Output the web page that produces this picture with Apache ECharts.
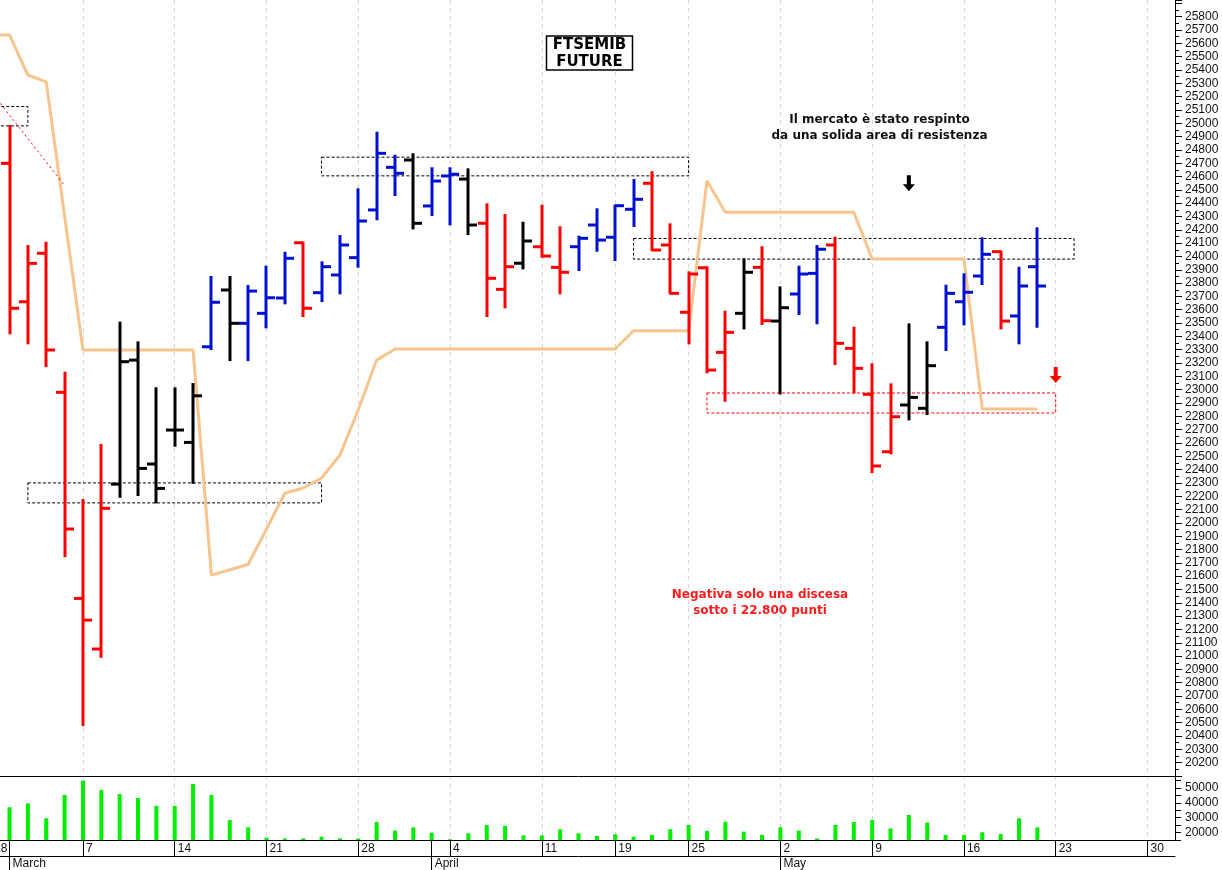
<!DOCTYPE html>
<html><head><meta charset="utf-8">
<script src="https://cdn.jsdelivr.net/npm/echarts@6/dist/echarts.min.js"></script>
<style>html,body{margin:0;padding:0;background:#fff;overflow:hidden;width:1222px;height:870px;position:relative}#c{position:absolute;left:-18px;top:0;width:1240px;height:870px}</style>
</head><body><div id="c"></div>
<script>
// ---------- DATA ----------
const dates = [
 '2022-02-28',
 '2022-03-01','2022-03-02','2022-03-03','2022-03-04',
 '2022-03-07','2022-03-08','2022-03-09','2022-03-10','2022-03-11',
 '2022-03-14','2022-03-15','2022-03-16','2022-03-17','2022-03-18',
 '2022-03-21','2022-03-22','2022-03-23','2022-03-24','2022-03-25',
 '2022-03-28','2022-03-29','2022-03-30','2022-03-31','2022-04-01',
 '2022-04-04','2022-04-05','2022-04-06','2022-04-07','2022-04-08',
 '2022-04-11','2022-04-12','2022-04-13','2022-04-14',
 '2022-04-19','2022-04-20','2022-04-21','2022-04-22',
 '2022-04-25','2022-04-26','2022-04-27','2022-04-28','2022-04-29',
 '2022-05-02','2022-05-03','2022-05-04','2022-05-05','2022-05-06',
 '2022-05-09','2022-05-10','2022-05-11','2022-05-12','2022-05-13',
 '2022-05-16','2022-05-17','2022-05-18','2022-05-19','2022-05-20',
 '2022-05-23','2022-05-24','2022-05-25','2022-05-26','2022-05-27',
 '2022-05-30','2022-05-31'
];
const monthNames = ['January','February','March','April','May','June','July','August','September','October','November','December'];

// OHLC bars: first bar is 2022-03-01
const barStartDate = '2022-03-01';
const opens  = [24699,23660,24024,22980,21433,21053,22291,23222,22442,22697,22604,23322,23748,23498,23573,23688,24103,23728,23861,23991,24349,24669,24724,24379,24604,24581,24249,23753,23949,24073,23918,24073,24236,24144,24354,24549,24086,23581,23915,23280,23573,23918,23515,23718,23873,24086,23310,22965,22534,22885,22860,23468,23660,23853,24036,23553,23923];
const highs  = [24979,24078,24103,23127,22171,22584,23503,23355,23010,23010,23042,23846,23846,23778,23923,24028,24103,23956,24153,24504,24929,24756,24767,24662,24662,24654,24391,24311,24253,24381,24219,24148,24354,24381,24574,24632,24241,23881,23918,23585,23978,24069,23768,23923,24078,24141,23465,23190,23040,23490,23355,23780,23866,24136,24036,23915,24211];
const lows   = [23423,23348,23177,21751,20482,20995,22196,22209,22154,22579,22301,23305,23222,23222,23468,23648,23553,23665,23723,23923,24279,24461,24211,24311,24241,24168,23553,23618,23911,23998,23723,23898,24043,23973,24229,24048,23723,23348,23130,22917,23460,23493,22972,23568,23498,23192,22980,22382,22522,22777,22817,23298,23490,23793,23460,23348,23472];
const closes = [23611,23948,23298,21954,21270,22109,23210,22409,22259,22697,22954,23656,23498,23740,23690,23986,23611,23923,24086,24266,24774,24624,24249,24566,24617,24236,23836,23923,24116,24003,23881,24136,24123,24381,24429,24048,23723,23868,23147,23430,23881,23518,23615,23868,24054,23348,23160,22427,22797,22942,23180,23723,23731,24016,23515,23778,23778];
const barColors = ['r','r','r','r','r','r','k','k','k','k','k','b','k','b','b','b','r','b','b','b','b','b','k','b','b','k','r','r','k','r','r','b','b','b','b','r','r','r','r','r','k','r','k','b','b','r','r','r','r','k','k','b','b','b','r','b','b'];
const volumes = [37000,39600,29600,45200,54900,48600,45900,43200,37900,37900,52600,45200,28400,23500,16600,16100,16100,17200,16100,16100,27100,21300,23500,19900,15500,19500,25100,24400,18100,18100,22200,19500,17700,18800,17200,18400,22200,25100,21100,27300,20600,18400,23500,21300,16100,25100,27100,28400,22800,31800,26700,18400,18400,20200,19000,29600,23500];

// orange indicator line, first value is 2022-02-28
const signalStartDate = '2022-02-28';
const signalLine = [25663,25663,25362,25310,24304,23298,23298,23298,23298,23298,23298,23298,21608,21648,21688,21954,22222,22262,22337,22509,22847,23222,
 23305,23305,23305,23305,23305,23305,23305,23305,23305,23305,23305,23305,23305,
 23442,23442,23442,23442,24569,24331,24331,24331,24331,24331,24331,24331,24331,
 23981,23981,23981,23981,23981,23981,22854,22854,22854,22854];

// annotation boxes [fromDate, toDate, top, bottom, colour key]
const boxFrom   = ['2022-02-28','2022-03-02','2022-03-24','2022-04-20','2022-04-26'];
const boxTo     = ['2022-03-02','2022-03-24','2022-04-25','2022-05-24','2022-05-23'];
const boxTop    = [25125,22300,24745,24135,22975];
const boxBottom = [24980,22150,24605,23980,22825];
const boxKind   = ['k','k','k','k','r'];
// dotted trend segment
const trendFrom = ['2022-02-28',25237];
const trendTo   = ['2022-03-04',24533];
// arrows
const arrowDates  = ['2022-05-11','2022-05-23'];
const arrowPrices = [24549,23110];
const arrowKind   = ['k','r'];

// price / volume axis ranges
const priceMin = 20100, priceMax = 25925, priceStep = 100;
const volMin = 15000, volMax = 58000, volStep = 5000;

// ---------- BUILD ----------
const SHIFT = 18; // the chart canvas starts 18px left of the page so the first (Feb 28) slot is cut off
const colorMap = {r:'#ff0000', b:'#0010d0', k:'#000000'};
const dow = d => new Date(d + 'T00:00:00Z').getUTCDay();
const isWeekStart = dates.map((d,i) => i === 0 || dow(d) <= dow(dates[i-1]));
const isMonthStart = dates.map((d,i) => i > 0 && d.slice(5,7) !== dates[i-1].slice(5,7));

const b0 = dates.indexOf(barStartDate);
const ohlcData = opens.map((o,k) => [b0 + k, o, highs[k], lows[k], closes[k]]);
const volData = dates.map((d,i) => { const k = i - b0; return (k >= 0 && k < volumes.length) ? volumes[k] : null; });
const s0 = dates.indexOf(signalStartDate);
const sigData = dates.map((d,i) => { const k = i - s0; return (k >= 0 && k < signalLine.length) ? signalLine[k] : null; });

function renderOHLC(params, api) {
  const i = api.value(0);
  const pO = api.coord([i, api.value(1)]);
  const pH = api.coord([i, api.value(2)]);
  const pL = api.coord([i, api.value(3)]);
  const pC = api.coord([i, api.value(4)]);
  const x = Math.round(pO[0]);
  const w = Math.round(api.size([1, 0])[0] * 0.5);
  const col = colorMap[barColors[params.dataIndex]];
  const st = {stroke: col, lineWidth: 3, lineCap: 'butt'};
  return {type: 'group', children: [
    {type: 'line', shape: {x1: x, y1: pH[1] - 1, x2: x, y2: pL[1] + 1}, style: st},
    {type: 'line', shape: {x1: x - w, y1: pO[1], x2: x, y2: pO[1]}, style: st},
    {type: 'line', shape: {x1: x, y1: pC[1], x2: x + w, y2: pC[1]}, style: st}
  ]};
}

const gridLine = {show: true, alignWithLabel: true, interval: (i) => isWeekStart[i],
  lineStyle: {color: '#d6d6d6', type: [4, 4], width: 1}};
const lblFont = {fontFamily: 'Liberation Sans', fontSize: 12, color: '#111'};
const arrowPath = 'path://M4,0 L8,0 L8,9 L12,9 L6,16 L0,9 L4,9 Z';

const option = {
  animation: false,
  backgroundColor: '#ffffff',
  grid: [
    {left: 0, right: 47, top: 0, height: 776},
    {left: 0, right: 47, top: 776, height: 64}
  ],
  xAxis: [
    {type: 'category', gridIndex: 0, data: dates, boundaryGap: true,
     axisLine: {show: true, lineStyle: {color: '#000', width: 1}},
     axisTick: {show: false}, axisLabel: {show: false}, splitLine: gridLine},
    {type: 'category', gridIndex: 1, data: dates, boundaryGap: true,
     axisLine: {show: true, lineStyle: {color: '#000', width: 1}},
     axisTick: {show: true, alignWithLabel: true, length: 16, interval: (i) => isWeekStart[i] || isMonthStart[i], lineStyle: {color: '#000'}},
     axisLabel: Object.assign({interval: (i) => isWeekStart[i], formatter: (v) => String(+v.slice(8)), align: 'left', padding: [0,0,0,3], margin: 3}, lblFont),
     splitLine: gridLine},
    {type: 'category', gridIndex: 1, data: dates, boundaryGap: true, position: 'bottom', offset: 16,
     axisLine: {show: true, lineStyle: {color: '#000', width: 1}},
     axisTick: {show: true, alignWithLabel: true, length: 14, interval: (i) => isMonthStart[i], lineStyle: {color: '#000'}},
     axisLabel: Object.assign({interval: (i) => isMonthStart[i], formatter: (v) => monthNames[+v.slice(5,7) - 1], align: 'left', padding: [0,0,0,3], margin: 2}, lblFont),
     splitLine: {show: false}}
  ],
  yAxis: [
    {type: 'value', gridIndex: 0, position: 'right', min: priceMin, max: priceMax, interval: priceStep,
     axisLine: {show: true, lineStyle: {color: '#000'}},
     axisTick: {show: true, length: 7, lineStyle: {color: '#000'}},
     minorTick: {show: true, splitNumber: 2, length: 4, lineStyle: {color: '#000'}},
     splitLine: {show: false},
     axisLabel: Object.assign({margin: 10, formatter: (v) => (v % 100 === 0 && v >= 20200 && v <= 25800) ? String(v) : ''}, lblFont)},
    {type: 'value', gridIndex: 1, position: 'right', min: volMin, max: volMax, interval: volStep,
     axisLine: {show: true, lineStyle: {color: '#000'}},
     axisTick: {show: true, length: 6, lineStyle: {color: '#000'}},
     splitLine: {show: false},
     axisLabel: Object.assign({margin: 10, formatter: (v) => (v % 10000 === 0 && v >= 20000 && v <= 50000) ? String(v) : ''}, lblFont)}
  ],
  series: [
    {type: 'line', xAxisIndex: 0, yAxisIndex: 0, data: sigData, symbol: 'none', showSymbol: false,
     lineStyle: {color: '#f7c48e', width: 3}, z: 2, silent: true,
     markArea: {silent: true, label: {show: false},
       data: boxFrom.map((f,k) => [
         {coord: [f, boxTop[k]], itemStyle: {color: 'rgba(0,0,0,0)', borderColor: colorMap[boxKind[k]], borderWidth: 1, borderType: [3, 2]}},
         {coord: [boxTo[k], boxBottom[k]]}
       ])},
     markLine: {silent: true, symbol: 'none', label: {show: false},
       lineStyle: {color: '#ff0000', type: [2, 3], width: 1},
       data: [[{coord: trendFrom}, {coord: trendTo}]]},
     markPoint: {silent: true, label: {show: false},
       data: arrowDates.map((d,k) => ({coord: [d, arrowPrices[k]], symbol: arrowPath, symbolSize: [12, 16], itemStyle: {color: colorMap[arrowKind[k]]}}))}
    },
    {type: 'custom', xAxisIndex: 0, yAxisIndex: 0, data: ohlcData, renderItem: renderOHLC,
     encode: {x: 0, y: [1,2,3,4]}, z: 3, clip: true, silent: true},
    {type: 'bar', xAxisIndex: 1, yAxisIndex: 1, data: volData, barWidth: 4,
     itemStyle: {color: '#00ee00'}, silent: true}
  ],
  graphic: [
    {type: 'rect', shape: {x: 546.5 + SHIFT, y: 36, width: 86, height: 34}, style: {fill: '#fff', stroke: '#000', lineWidth: 1.5}, z: 100},
    {type: 'text', x: 589.5 + SHIFT, y: 45, z: 101, style: {text: 'FTSEMIB', font: 'bold 15px "DejaVu Sans"', fill: '#000', align: 'center', verticalAlign: 'middle'}},
    {type: 'text', x: 589.5 + SHIFT, y: 62, z: 101, style: {text: 'FUTURE', font: 'bold 15px "DejaVu Sans"', fill: '#000', align: 'center', verticalAlign: 'middle'}},
    {type: 'text', x: 879.5 + SHIFT, y: 128, z: 101, style: {text: 'Il mercato è stato respinto\nda una solida area di resistenza', font: 'bold 12px "DejaVu Sans"', fill: '#111', align: 'center', verticalAlign: 'middle', lineHeight: 16}},
    {type: 'text', x: 760 + SHIFT, y: 603, z: 101, style: {text: 'Negativa solo una discesa\nsotto i 22.800 punti', font: 'bold 12px "DejaVu Sans"', fill: '#ff1a1a', align: 'center', verticalAlign: 'middle', lineHeight: 16}}
  ]
};
const chart = echarts.init(document.getElementById('c'), null, {renderer: 'canvas', width: 1240, height: 870});
chart.setOption(option);
</script></body></html>
